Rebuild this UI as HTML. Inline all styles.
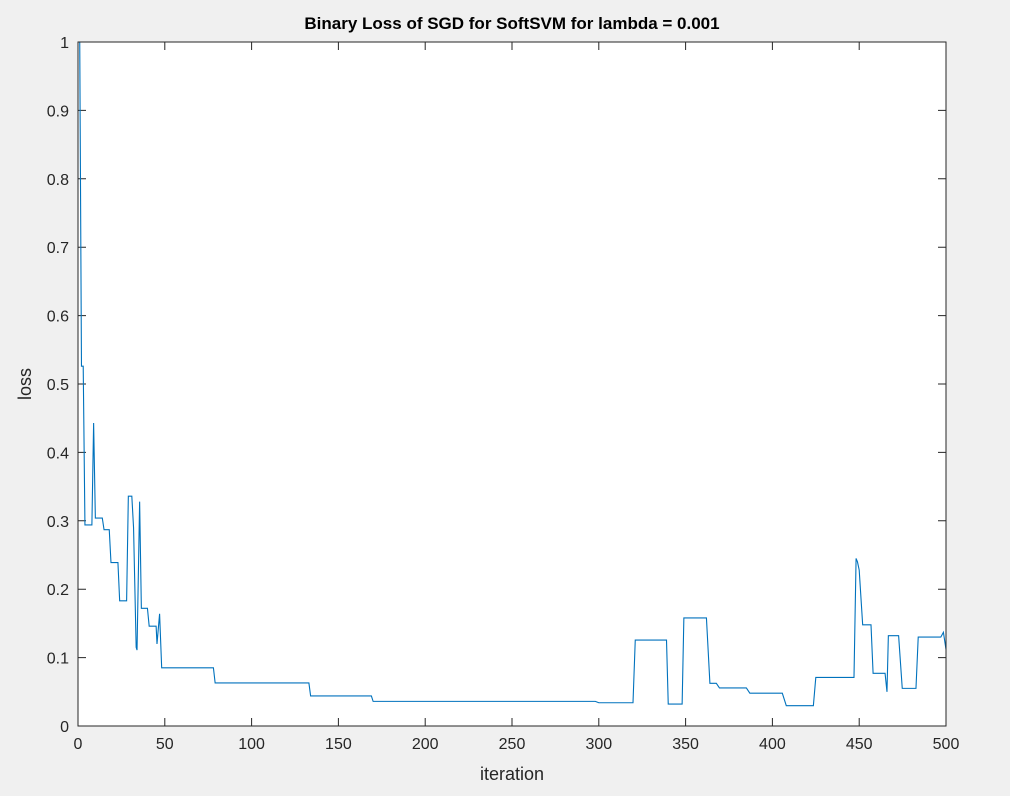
<!DOCTYPE html>
<html><head><meta charset="utf-8"><style>
html,body{margin:0;padding:0;background:#f0f0f0;}
svg{display:block;font-family:"Liberation Sans",Arial,sans-serif;}
</style></head><body>
<svg id="chart" width="1010" height="796">
<rect x="0" y="0" width="1010" height="796" fill="#f0f0f0"/>
<rect x="78" y="42" width="868" height="684" fill="#ffffff"/>
<text x="512" y="29" text-anchor="middle" font-size="17" font-weight="bold" fill="#000">Binary Loss of SGD for SoftSVM for lambda = 0.001</text>
<text x="512" y="780" text-anchor="middle" font-size="18" fill="#262626">iteration</text>
<text transform="translate(31,384) rotate(-90)" text-anchor="middle" font-size="18" fill="#262626">loss</text>
<g id="ticks"></g>
<g id="series"></g>
<rect x="78" y="42" width="868" height="684" fill="none" stroke="#262626" stroke-width="1"/>
</svg>
<script>
const iterations = [1,2,3,4,8,9,10,14,15,18,19,23,24,28,29,31,32,33.5,34,35.5,36.5,40,41,45,45.5,47,48.2,78,79,133,134,169,170,298,300,319.7,321,339,340,348,349,362,364,367.7,369.5,385,387,405.7,408,423.6,425,447,448.2,449,450,452,456.8,458,464.9,466,466.8,472.7,474.8,482.7,484,497,498.5,500];
const lossValues = [1,0.526,0.526,0.294,0.294,0.443,0.304,0.304,0.287,0.287,0.239,0.239,0.183,0.183,0.336,0.336,0.29,0.115,0.111,0.328,0.172,0.172,0.146,0.146,0.12,0.164,0.085,0.085,0.063,0.063,0.044,0.044,0.036,0.036,0.034,0.034,0.1257,0.1257,0.032,0.032,0.158,0.158,0.0624,0.0624,0.0556,0.0556,0.048,0.048,0.0297,0.0297,0.071,0.071,0.245,0.24,0.228,0.148,0.148,0.077,0.077,0.050,0.132,0.132,0.055,0.055,0.13,0.13,0.137,0.112];
const xTicks = [0,50,100,150,200,250,300,350,400,450,500];
const yTicks = [0,0.1,0.2,0.3,0.4,0.5,0.6,0.7,0.8,0.9,1];
const yTickLabels = ["0","0.1","0.2","0.3","0.4","0.5","0.6","0.7","0.8","0.9","1"];

const NS="http://www.w3.org/2000/svg";
const X0=78,X1=946,Y0=726,Y1=42;
function sx(v){return X0+(v-0)/(500-0)*(X1-X0);}
function sy(v){return Y0-(v-0)/(1-0)*(Y0-Y1);}
const tg=document.getElementById('ticks');
xTicks.forEach(function(t){
  const x=sx(t);
  const l=document.createElementNS(NS,'path');
  l.setAttribute('d','M'+x+','+Y0+'V'+(Y0-8)+'M'+x+','+Y1+'V'+(Y1+8));
  l.setAttribute('stroke','#262626');
  
  
  tg.appendChild(l);
  const tx=document.createElementNS(NS,'text');
  tx.setAttribute('x',x);tx.setAttribute('y',Y0+23);
  tx.setAttribute('text-anchor','middle');tx.setAttribute('font-size','16');tx.setAttribute('fill','#262626');
  tx.textContent=String(t);
  
  
  tg.appendChild(tx);
});
yTicks.forEach(function(t,i){
  const y=sy(t);
  const l=document.createElementNS(NS,'path');
  l.setAttribute('d','M'+X0+','+y+'H'+(X0+8)+'M'+X1+','+y+'H'+(X1-8));
  l.setAttribute('stroke','#262626');
  
  
  tg.appendChild(l);
  const tx=document.createElementNS(NS,'text');
  tx.setAttribute('x',X0-9);tx.setAttribute('y',y+6);
  tx.setAttribute('text-anchor','end');tx.setAttribute('font-size','16');tx.setAttribute('fill','#262626');
  tx.textContent=yTickLabels[i];
  
  
  tg.appendChild(tx);
});
const sg=document.getElementById('series');
let d='';
iterations.forEach(function(it,i){d+=(i?'L':'M')+sx(it).toFixed(2)+','+sy(lossValues[i]).toFixed(2);});
const p=document.createElementNS(NS,'path');
p.setAttribute('d',d);p.setAttribute('fill','none');p.setAttribute('stroke','#0072bd');p.setAttribute('stroke-width','1.1');


sg.appendChild(p);
</script>
</body></html>
